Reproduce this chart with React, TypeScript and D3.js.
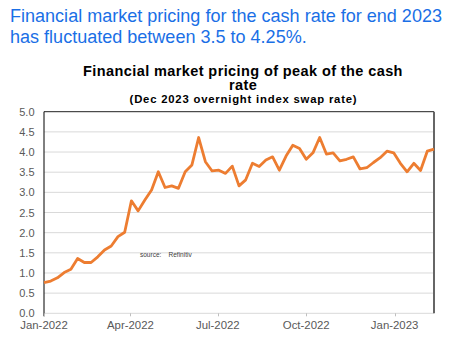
import { useRef, useEffect } from "react";
import * as d3 from "d3";

// weekly observations, first week starting 1 Jan 2022
const startDate = "2022-01-01";
const rates = [
  0.76, 0.8, 0.88, 1.01, 1.09, 1.36, 1.26, 1.26, 1.4, 1.57, 1.67, 1.9, 2.01,
  2.79, 2.54, 2.81, 3.06, 3.51, 3.12, 3.16, 3.1, 3.51, 3.68, 4.36, 3.76, 3.53,
  3.55, 3.47, 3.65, 3.16, 3.31, 3.72, 3.64, 3.8, 3.88, 3.55, 3.9, 4.17, 4.09,
  3.82, 3.98, 4.36, 3.95, 3.98, 3.78, 3.82, 3.88, 3.58, 3.61, 3.74, 3.86, 4.02,
  3.98, 3.72, 3.51, 3.72, 3.54, 4.02, 4.07,
];
const yTicks = [0, 0.5, 1, 1.5, 2, 2.5, 3, 3.5, 4, 4.5, 5];
const xTicks = ["2022-01-01", "2022-04-01", "2022-07-01", "2022-10-01", "2023-01-01"];

const headline = [
  "Financial market pricing for the cash rate for end 2023",
  "has fluctuated between 3.5 to 4.25%.",
];
const chartTitle = ["Financial market pricing of peak of the cash", "rate"];
const subTitle = "(Dec 2023 overnight index swap rate)";

export default function App() {
  const ref = useRef<SVGSVGElement>(null);

  useEffect(() => {
    if (!ref.current) return;
    const svg = d3.select(ref.current);
    svg.selectAll("*").remove();

    const W = 458;
    const H = 351;
    svg.attr("width", W).attr("height", H).attr("viewBox", `0 0 ${W} ${H}`);

    svg.append("rect").attr("width", W).attr("height", H).attr("fill", "#fff");

    const font = "'Liberation Sans', Arial, sans-serif";

    // headline
    headline.forEach((t, i) => {
      svg
        .append("text")
        .attr("x", 10)
        .attr("y", 22 + i * 20.5)
        .style("font-family", font)
        .style("font-size", "18.05px")
        .style("fill", "#1a6fe6")
        .text(t);
    });

    // chart titles
    chartTitle.forEach((t, i) => {
      svg
        .append("text")
        .attr("x", 243)
        .attr("y", 75.5 + i * 14.5)
        .attr("text-anchor", "middle")
        .style("font-family", font)
        .style("font-size", "14.5px")
        .style("letter-spacing", "0.4px")
        .style("font-weight", "bold")
        .style("fill", "#000")
        .text(t);
    });
    svg
      .append("text")
      .attr("x", 243.5)
      .attr("y", 102.5)
      .attr("text-anchor", "middle")
      .style("font-family", font)
      .style("font-size", "11.3px")
      .style("letter-spacing", "0.8px")
      .style("font-weight", "bold")
      .style("fill", "#000")
      .text(subTitle);

    const parse = d3.timeParse("%Y-%m-%d");
    const start = parse(startDate)!;
    const data = rates.map((v, i) => ({ date: d3.timeDay.offset(start, i * 7), v }));

    const left = 44;
    const right = 434;
    const top = 111.7;
    const bottom = 313.3;

    const x = d3
      .scaleTime()
      .domain([start, data[data.length - 1].date])
      .range([left, right]);
    const y = d3.scaleLinear().domain([0, 5]).range([bottom, top]);

    // grid
    yTicks.forEach((t) => {
      if (t === 5) return;
      svg
        .append("line")
        .attr("x1", left)
        .attr("x2", right)
        .attr("y1", y(t))
        .attr("y2", y(t))
        .attr("stroke", "#d9d9d9")
        .attr("stroke-width", 1);
    });

    // top border
    svg
      .append("line")
      .attr("x1", left)
      .attr("x2", right)
      .attr("y1", top)
      .attr("y2", top)
      .attr("stroke", "#222")
      .attr("stroke-width", 1);
    // right border
    svg
      .append("line")
      .attr("x1", right)
      .attr("x2", right)
      .attr("y1", top)
      .attr("y2", bottom)
      .attr("stroke", "#666")
      .attr("stroke-width", 2);
    // left axis
    svg
      .append("line")
      .attr("x1", left)
      .attr("x2", left)
      .attr("y1", top)
      .attr("y2", bottom + 3)
      .attr("stroke", "#000")
      .attr("stroke-width", 1);

    // y labels
    yTicks.forEach((t) => {
      svg
        .append("text")
        .attr("x", 34.5)
        .attr("y", y(t) + 4)
        .attr("text-anchor", "end")
        .style("font-family", font)
        .style("font-size", "11px")
        .style("fill", "#595959")
        .text(d3.format(".1f")(t));
    });

    // x ticks + labels
    const fmt = d3.timeFormat("%b-%Y");
    xTicks.forEach((s) => {
      const d = parse(s)!;
      const xx = Math.round(x(d)) + 0.5;
      svg
        .append("line")
        .attr("x1", xx)
        .attr("x2", xx)
        .attr("y1", bottom)
        .attr("y2", bottom + 3)
        .attr("stroke", "#bfbfbf");
      svg
        .append("text")
        .attr("x", x(d))
        .attr("y", 329)
        .attr("text-anchor", "middle")
        .style("font-family", font)
        .style("font-size", "11.4px")
        .style("fill", "#595959")
        .text(fmt(d));
    });

    // source note
    svg
      .append("text")
      .attr("x", 140)
      .attr("y", 257)
      .style("font-family", font)
      .style("font-size", "6.5px")
      .style("fill", "#404040")
      .attr("xml:space", "preserve")
      .text("source:    Refinitiv");

    const line = d3
      .line<{ date: Date; v: number }>()
      .x((d) => x(d.date))
      .y((d) => y(d.v));

    svg
      .append("path")
      .datum(data)
      .attr("d", line)
      .attr("fill", "none")
      .attr("stroke", "#ed7d31")
      .attr("stroke-width", 2.8)
      .attr("stroke-linejoin", "round");
  }, []);

  return <svg ref={ref} style={{ position: "absolute", left: 0, top: 0 }} />;
}
